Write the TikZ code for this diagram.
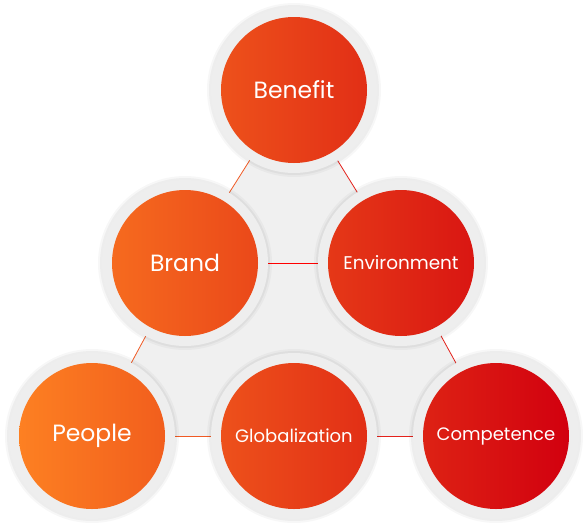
\documentclass[tikz,border=0pt]{standalone}
\usepackage{fontspec}
\setmainfont{Poppins}
\usepackage{xcolor}
\usetikzlibrary{backgrounds,calc,positioning}

\definecolor{ringgrey}{HTML}{EEEEEE}
\definecolor{fieldgrey}{HTML}{F0F0F0}
\definecolor{leftorange}{RGB}{253,128,34}
\definecolor{rightred}{RGB}{210,0,15}
\definecolor{lineorange}{HTML}{F05A24}
\definecolor{linered}{HTML}{E4221C}

\begin{document}
\begin{tikzpicture}[x=1pt,y=-1pt,on grid]
  \tikzstyle{bubble}=[circle,minimum size=146pt,inner sep=0pt,text=white]
  \tikzstyle{big}=[font=\fontsize{23.5}{28}\selectfont]
  \tikzstyle{small}=[font=\fontsize{18}{22}\selectfont]
  \tikzstyle{link}=[line width=0.8pt]
  \useasboundingbox (0,0) rectangle (587,528);
  \node[bubble,big] (benefit) at (294,90) {Benefit};
  \node[bubble,big] (brand) [below left=173pt and 109pt of benefit] {Brand};
  \node[bubble,small,font=\fontsize{18.4}{22}\selectfont] (env) [below right=173pt and 107pt of benefit] {Environment};
  \node[bubble,big] (people) [below left=173pt and 93pt of brand] {People};
  \node[bubble,small] (glob) [right=202pt of people] {Globalization};
  \node[bubble,small] (comp) [right=202pt of glob] {Competence};
  \begin{scope}[on background layer]
    \fill[fieldgrey] (benefit.center) -- (brand.center) -- (people.center)
      -- (glob.center) -- (comp.center) -- (env.center) -- cycle;
    \path[link]
    (benefit) edge[lineorange] (brand)
    (benefit) edge[linered] (env)
    (brand) edge[red] (env)
    (brand) edge[lineorange] (people)
    (people) edge[lineorange] (glob)
    (glob) edge[linered] (comp)
    (env) edge[linered] (comp)
    ;
    % rings with a soft shadow
    \foreach \n in {benefit,brand,env,people,glob,comp} {
      \fill[black,opacity=0.03] (\n) circle (87pt);
      \fill[black,opacity=0.04] (\n) circle (85pt);
      \fill[ringgrey] (\n) circle (83pt);
    }
    \shade[left color=leftorange,right color=rightred]
      (benefit) circle (73pt) (brand) circle (73pt) (env) circle (73pt)
      (people) circle (73pt) (glob) circle (73pt) (comp) circle (73pt);
  \end{scope}
\end{tikzpicture}
\end{document}
